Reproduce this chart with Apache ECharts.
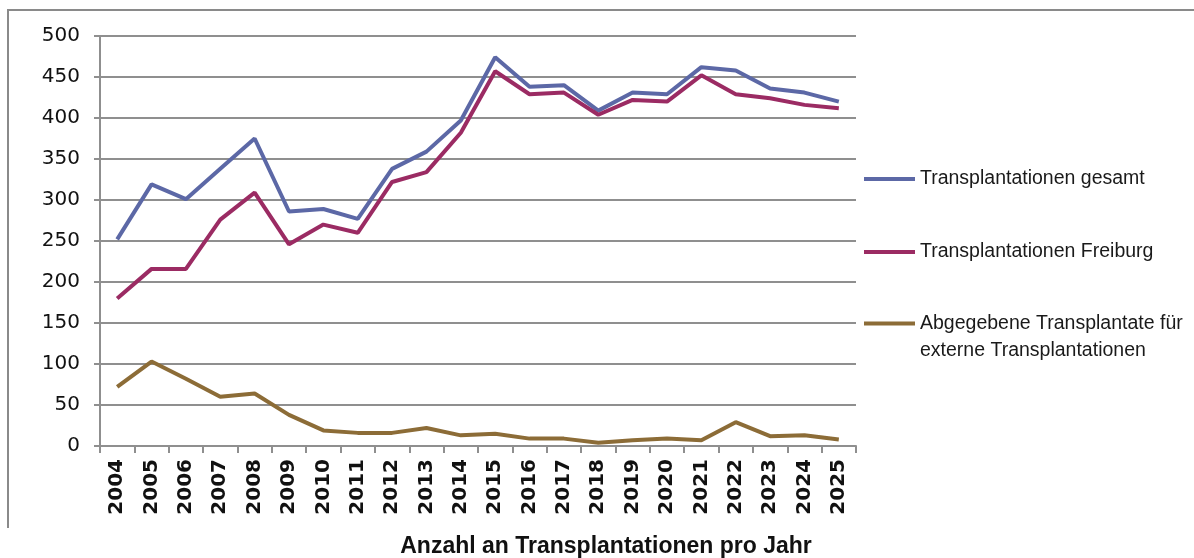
<!DOCTYPE html>
<html>
<head>
<meta charset="utf-8">
<script src="https://cdn.jsdelivr.net/npm/echarts@6/dist/echarts.min.js"></script>
<style>
  html, body { margin: 0; padding: 0; background: #fff; }
  #chart { width: 1194px; height: 558px; }
</style>
</head>
<body>
<div id="chart"></div>
<script>
// Years on the category axis
const years = ['2004','2005','2006','2007','2008','2009','2010','2011','2012','2013','2014',
               '2015','2016','2017','2018','2019','2020','2021','2022','2023','2024','2025'];

// Series values per year
const gesamt   = [252, 319, 301, 338, 375, 286, 289, 277, 338, 359, 397, 474, 438, 440, 409, 431, 429, 462, 458, 436, 431, 420];
const freiburg = [180, 216, 216, 276, 309, 246, 270, 260, 322, 334, 382, 457, 429, 431, 404, 422, 420, 452, 429, 424, 416, 412];
const extern   = [72, 103, 82, 60, 64, 38, 19, 16, 16, 22, 13, 15, 9, 9, 4, 7, 9, 7, 29, 12, 13, 8];

// Series names and y-axis ticks
const nameGesamt = 'Transplantationen gesamt';
const nameFreiburg = 'Transplantationen Freiburg';
const nameExtern = 'Abgegebene Transplantate für externe Transplantationen';
const yTicks = { min: 0, max: 500, interval: 50 };
const chartTitle = 'Anzahl an Transplantationen pro Jahr';

const colors = { gesamt: '#5c68a6', freiburg: '#9b2b63', extern: '#8c6c37' };
const gridColor = '#8f8f8f';

const chart = echarts.init(document.getElementById('chart'), null, { renderer: 'canvas' });

const legendBase = {
  orient: 'vertical',
  left: 859,
  icon: 'rect',
  itemWidth: 51,
  itemHeight: 4,
  itemGap: 0,
  selectedMode: false,
  textStyle: { fontFamily: 'Liberation Sans', fontSize: 19.5, color: '#1a1a1a', lineHeight: 22 }
};

chart.setOption({
  animation: false,
  backgroundColor: '#ffffff',
  grid: { left: 100, right: 338, top: 36, bottom: 112, containLabel: false },
  legend: [
    Object.assign({}, legendBase, { top: 163, data: [nameGesamt] }),
    Object.assign({}, legendBase, { top: 236, data: [nameFreiburg] }),
    Object.assign({}, legendBase, {
      top: 278,
      data: [nameExtern],
      // a leading empty line keeps the marker level with the first text line
      formatter: () => '\nAbgegebene Transplantate für\nexterne Transplantationen',
      textStyle: Object.assign({}, legendBase.textStyle, { lineHeight: 27 })
    })
  ],
  xAxis: {
    type: 'category',
    data: years,
    boundaryGap: true,
    axisLine: { show: true, lineStyle: { color: gridColor, width: 2 } },
    axisTick: { show: true, length: 7, inside: false, alignWithLabel: false, lineStyle: { color: gridColor, width: 2 } },
    axisLabel: {
      rotate: 90,
      margin: 13,
      interval: 0,
      fontFamily: 'DejaVu Sans',
      fontWeight: 'bold',
      fontSize: 20,
      color: '#111'
    },
    splitLine: { show: false }
  },
  yAxis: {
    type: 'value',
    min: yTicks.min,
    max: yTicks.max,
    interval: yTicks.interval,
    axisLine: { show: true, lineStyle: { color: gridColor, width: 2 } },
    axisTick: { show: true, length: 6, inside: false, lineStyle: { color: gridColor, width: 2 } },
    axisLabel: {
      margin: 20,
      fontFamily: 'DejaVu Sans',
      fontSize: 20,
      color: '#111'
    },
    splitLine: { show: true, lineStyle: { color: gridColor, width: 2 } }
  },
  series: [
    {
      name: nameGesamt, type: 'line', data: gesamt, symbol: 'none',
      lineStyle: { color: colors.gesamt, width: 4 }, itemStyle: { color: colors.gesamt }
    },
    {
      name: nameFreiburg, type: 'line', data: freiburg, symbol: 'none',
      lineStyle: { color: colors.freiburg, width: 4 }, itemStyle: { color: colors.freiburg }
    },
    {
      name: nameExtern, type: 'line', data: extern, symbol: 'none',
      lineStyle: { color: colors.extern, width: 4 }, itemStyle: { color: colors.extern }
    }
  ],
  graphic: [
    {
      type: 'polyline',
      shape: { points: [[1194, 10], [8, 10], [8, 528]] },
      style: { stroke: '#8a8a8a', lineWidth: 2, fill: null },
      silent: true
    },
    {
      type: 'text',
      x: 606,
      y: 547,
      style: {
        text: chartTitle,
        fontFamily: 'Liberation Sans',
        fontWeight: 'bold',
        fontSize: 23,
        fill: '#111',
        align: 'center',
        verticalAlign: 'middle'
      },
      silent: true
    }
  ]
});
</script>
</body>
</html>
